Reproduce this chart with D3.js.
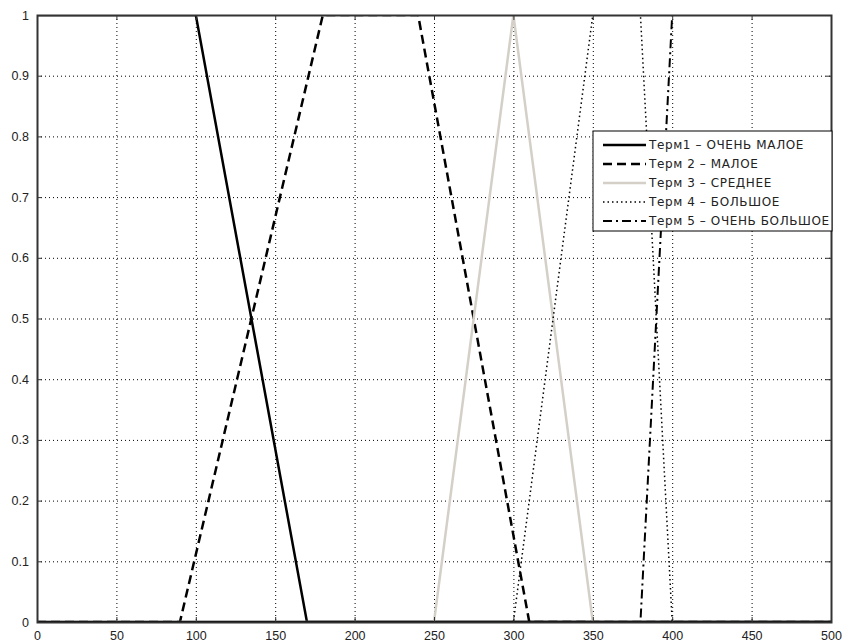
<!DOCTYPE html>
<html>
<head>
    <meta charset="utf-8">
    <title>Термы</title>
    <style>
        body { margin: 0; background: #fff; }
        svg { display: block; font-family: Arial, "Liberation Sans", sans-serif; }
        .tick text { font-size: 12.5px; fill: #222; }
        .grid line { stroke: #000; stroke-width: 1; stroke-dasharray: 1,3; }
        .legend text { font-family: "DejaVu Sans", sans-serif; font-size: 12px; letter-spacing: 0.6px; fill: #222; }
    </style>
</head>
<body>
<div id="chart"></div>
<script src="https://cdnjs.cloudflare.com/ajax/libs/d3/7.8.5/d3.min.js"></script>
<script>
    // membership functions, break points
    const term1X = [0, 100, 170, 500];
    const term1Y = [1, 1, 0, 0];
    const term2X = [0, 90, 180, 240, 310, 500];
    const term2Y = [0, 0, 1, 1, 0, 0];
    const term3X = [0, 250, 300, 350, 500];
    const term3Y = [0, 0, 1, 0, 0];
    const term4X = [0, 300, 350, 380, 400, 500];
    const term4Y = [0, 0, 1, 1, 0, 0];
    const term5X = [0, 380, 400, 500];
    const term5Y = [0, 0, 1, 1];

    const legendLabels = [
        'Терм1 –  ОЧЕНЬ МАЛОЕ',
        'Терм 2 – МАЛОЕ',
        'Терм 3 – СРЕДНЕЕ',
        'Терм 4 – БОЛЬШОЕ',
        'Терм 5 – ОЧЕНЬ БОЛЬШОЕ'
    ];
    const xTicks = [0, 50, 100, 150, 200, 250, 300, 350, 400, 450, 500];
    const yTicks = [0, 0.1, 0.2, 0.3, 0.4, 0.5, 0.6, 0.7, 0.8, 0.9, 1];

    const W = 843, H = 642;
    const margin = {top: 15, right: 12, bottom: 20, left: 37};
    const width = W - margin.left - margin.right;
    const height = H - margin.top - margin.bottom;

    const svg = d3.select('#chart').append('svg')
        .attr('width', W).attr('height', H);
    const g = svg.append('g')
        .attr('transform', `translate(${margin.left},${margin.top})`);

    // lines at 0 and 1 get cut in half by the frame, like matlab does
    g.append('clipPath').attr('id', 'plotclip')
        .append('rect').attr('x', 0).attr('y', 0).attr('width', width).attr('height', height);

    const x = d3.scaleLinear().domain([0, 500]).range([0, width]);
    const y = d3.scaleLinear().domain([0, 1]).range([height, 0]);

    // grid
    g.append('g').attr('class', 'grid')
        .selectAll('line').data(xTicks.slice(1, -1)).enter().append('line')
        .attr('x1', d => x(d) + 0.5).attr('x2', d => x(d) + 0.5)
        .attr('y1', 0).attr('y2', height);
    g.append('g').attr('class', 'grid')
        .selectAll('line').data(yTicks.slice(1, -1)).enter().append('line')
        .attr('y1', d => y(d) + 0.5).attr('y2', d => y(d) + 0.5)
        .attr('x1', 0).attr('x2', width);

    // lines
    const series = [
        {xs: term1X, ys: term1Y, color: '#000', w: 2.5, dash: null},
        {xs: term2X, ys: term2Y, color: '#000', w: 2.5, dash: '9,5'},
        {xs: term3X, ys: term3Y, color: '#d4d0c8', w: 2.5, dash: null},
        {xs: term4X, ys: term4Y, color: '#000', w: 1.5, dash: '1.5,3'},
        {xs: term5X, ys: term5Y, color: '#000', w: 2, dash: '9,4,2,4'}
    ];
    const line = d3.line().x(d => x(d[0])).y(d => y(d[1]));

    const lines = g.append('g').attr('clip-path', 'url(#plotclip)');
    series.forEach(s => {
        lines.append('path')
            .datum(d3.zip(s.xs, s.ys))
            .attr('fill', 'none')
            .attr('stroke', s.color)
            .attr('stroke-width', s.w)
            .attr('stroke-dasharray', s.dash)
            .attr('d', line);
    });
    // the bottom in the picture is a solid heavy line (all the zero parts overlap)
    lines.append('line')
        .attr('x1', 0).attr('x2', width)
        .attr('y1', y(0)).attr('y2', y(0))
        .attr('stroke', '#000').attr('stroke-width', 2.5);

    // axes, ticks inside like matlab
    g.append('g').attr('transform', `translate(0,${height})`)
        .call(d3.axisBottom(x).tickValues(xTicks).tickFormat(d3.format('d')).tickSizeInner(-5).tickSizeOuter(0).tickPadding(9));
    g.append('g')
        .call(d3.axisLeft(y).tickValues(yTicks).tickFormat(d => d === 0 || d === 1 ? d : d3.format('.1f')(d)).tickSizeInner(-5).tickSizeOuter(0).tickPadding(8));
    g.append('g')
        .call(d3.axisTop(x).tickValues(xTicks).tickFormat('').tickSizeInner(-5).tickSizeOuter(0));
    g.append('g').attr('transform', `translate(${width},0)`)
        .call(d3.axisRight(y).tickValues(yTicks).tickFormat('').tickSizeInner(-5).tickSizeOuter(0));
    g.selectAll('.domain').remove();
    g.selectAll('.tick line').attr('stroke', '#333');

    g.append('rect')
        .attr('x', 0.5).attr('y', 0.5)
        .attr('width', width).attr('height', height)
        .attr('fill', 'none').attr('stroke', '#333').attr('stroke-width', 2);

    // legend
    const lx = 593 - margin.left, ly = 131 - margin.top;
    const legend = g.append('g').attr('class', 'legend')
        .attr('transform', `translate(${lx},${ly})`);
    legend.append('rect')
        .attr('width', 239).attr('height', 100)
        .attr('fill', '#fff').attr('stroke', '#000').attr('stroke-width', 1);
    legendLabels.forEach((lab, i) => {
        const s = series[i];
        const yy = 14 + i * 19;
        legend.append('line')
            .attr('x1', 10).attr('x2', 53)
            .attr('y1', yy).attr('y2', yy)
            .attr('stroke', s.color).attr('stroke-width', s.w)
            .attr('stroke-dasharray', s.dash);
        legend.append('text')
            .attr('x', 56).attr('y', yy + 4)
            .text(lab);
    });
</script>
</body>
</html>
